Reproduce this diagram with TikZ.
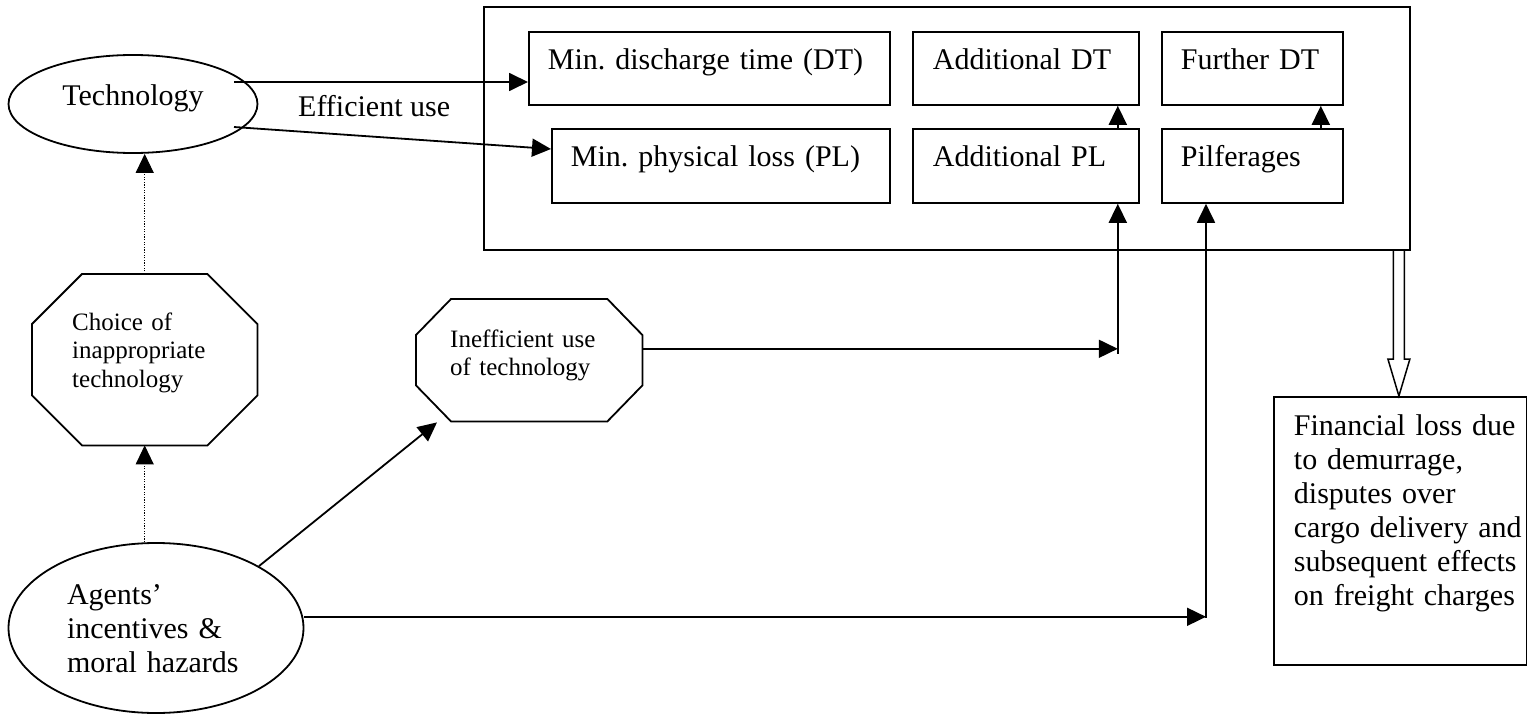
\documentclass[tikz,border=0pt]{standalone}
\usepackage{fontspec}
\setmainfont{Liberation Serif}
\usetikzlibrary{arrows.meta,calc,shapes.geometric}
\frenchspacing
\newcommand{\octagonpath}[3]{%
  \draw[line width=1.8pt,line join=miter]
    ($(#1.north west)+(#2,0)$) -- ($(#1.north east)+(-#2,0)$) --
    ($(#1.north east)+(0,#3)$) -- ($(#1.south east)+(0,-#3)$) --
    ($(#1.south east)+(-#2,0)$) -- ($(#1.south west)+(#2,0)$) --
    ($(#1.south west)+(0,-#3)$) -- ($(#1.north west)+(0,#3)$) -- cycle;}
\newcommand{\ind}{\hspace*{20pt}}
\begin{document}
\begin{tikzpicture}[x=1pt,y=-1pt,
  every node/.style={font=\fontsize{30}{34}\selectfont},
  ln/.style={line width=1.8pt},
  arr/.style={ln,-{Triangle[length=19pt,width=18pt]}},
  dotarr/.style={line width=1pt,dash pattern=on 1.2pt off 1.4pt,-{Triangle[length=19pt,width=18pt]}},
  box/.style={draw,ln,rectangle,anchor=north west,inner ysep=0pt,align=left,text height=38pt},
  oval/.style={draw,ln,ellipse,inner sep=2pt},
  octo/.style={rectangle,anchor=north west,inner ysep=0pt,align=left,font=\fontsize{25}{28.5}\selectfont}
]
\useasboundingbox (0,0) rectangle (1527,714);

% outer frame
\node[draw,ln,anchor=north west,minimum width=926pt,minimum height=243pt,inner sep=0pt] (frame) at (483,6) {};

% boxes inside the frame
\node[box,inner xsep=19pt,text width=323pt,text depth=35pt] (mindt) at (528,31) {Min. discharge time (DT)};
\node[box,inner xsep=20pt,text width=186pt,text depth=35pt] (adddt) at (912,31) {Additional DT};
\node[box,inner xsep=19pt,text width=143pt,text depth=35pt] (furt) at (1161,31) {Further DT};
\node[box,inner xsep=19pt,text width=300pt,text depth=36pt] (minpl) at (551,128) {Min. physical loss (PL)};
\node[box,inner xsep=20pt,text width=186pt,text depth=36pt] (addpl) at (912,128) {Additional PL};
\node[box,inner xsep=19pt,text width=143pt,text depth=36pt] (pilf) at (1161,128) {Pilferages};

% financial box
\node[box,inner xsep=0pt,text width=253pt,text height=39pt,text depth=229pt] (fin) at (1273,396)
  {\ind Financial loss due\\ \ind to demurrage,\\ \ind disputes over\\ \ind cargo delivery and\\ \ind subsequent effects\\ \ind on freight charges};

% ellipses
\node[oval,minimum width=249pt,minimum height=98pt,text height=20pt,text depth=16pt] (tech) at (133,104) {Technology};
\node[oval,minimum width=295pt,minimum height=170pt,text width=178pt,align=left,text height=21pt,text depth=69pt] (agents) at (156,628) {Agents’\\ incentives \&\\ moral hazards};

% label
\node[anchor=base west,inner sep=0pt] (eff) at (298,117) {Efficient use};

% octagons
\node[octo,minimum width=225pt,minimum height=171pt,inner xsep=40pt,text width=145pt,text height=56pt,text depth=115pt] (choice) at (32,274) {Choice of\\ inappropriate\\ technology};
\node[octo,inner xsep=34pt,text width=158pt,text height=48pt,text depth=74pt] (ineff) at (416,299) {Inefficient use\\ of technology};
\octagonpath{choice}{50}{50}
\octagonpath{ineff}{35}{36}

% connectors
\coordinate (t1) at ($(tech.center)+(101,-22)$);
\draw[arr] (t1) -- (t1 -| mindt.west);
\coordinate (t2) at ($(tech.center)+(101,23)$);
\draw[arr] (t2) -- ($(minpl.north west)+(0,21)$);
\draw[dotarr] (choice.north) -- (choice.north |- tech.south);
\draw[dotarr] (choice.south |- agents.north) -- (choice.south);
\draw[arr] (agents.31) -- ($(ineff.south west)+(21,1)$);
\coordinate (j1) at ($(addpl.south east)+(-22,145)$);
\draw[arr] (ineff.east |- j1) -- (j1);
\draw[arr] ($(j1)+(0,5)$) -- (j1 |- addpl.south);
\draw[arr] (j1 |- addpl.north) -- (j1 |- adddt.south);
\coordinate (j2) at ($(pilf.south west)+(45,413)$);
\draw[arr] (agents.east |- j2) -- (j2);
\draw[arr] ($(j2)+(0,1)$) -- (j2 |- pilf.south);
\draw[arr] ($(pilf.north east)+(-23,0)$) -- ($(furt.south east)+(-23,0)$);

% hollow double arrow
\coordinate (da) at ($(fin.north)+(-1.5,0)$);
\coordinate (dl) at ($(da)+(-5.5,-37)$);
\coordinate (dr) at ($(da)+(5.5,-37)$);
\draw[line width=1.5pt,line join=miter] (dl |- frame.south) -- (dl) -- ($(da)+(-11,-37)$) -- (da) -- ($(da)+(11,-37)$) -- (dr) -- (dr |- frame.south);
\end{tikzpicture}
\end{document}
